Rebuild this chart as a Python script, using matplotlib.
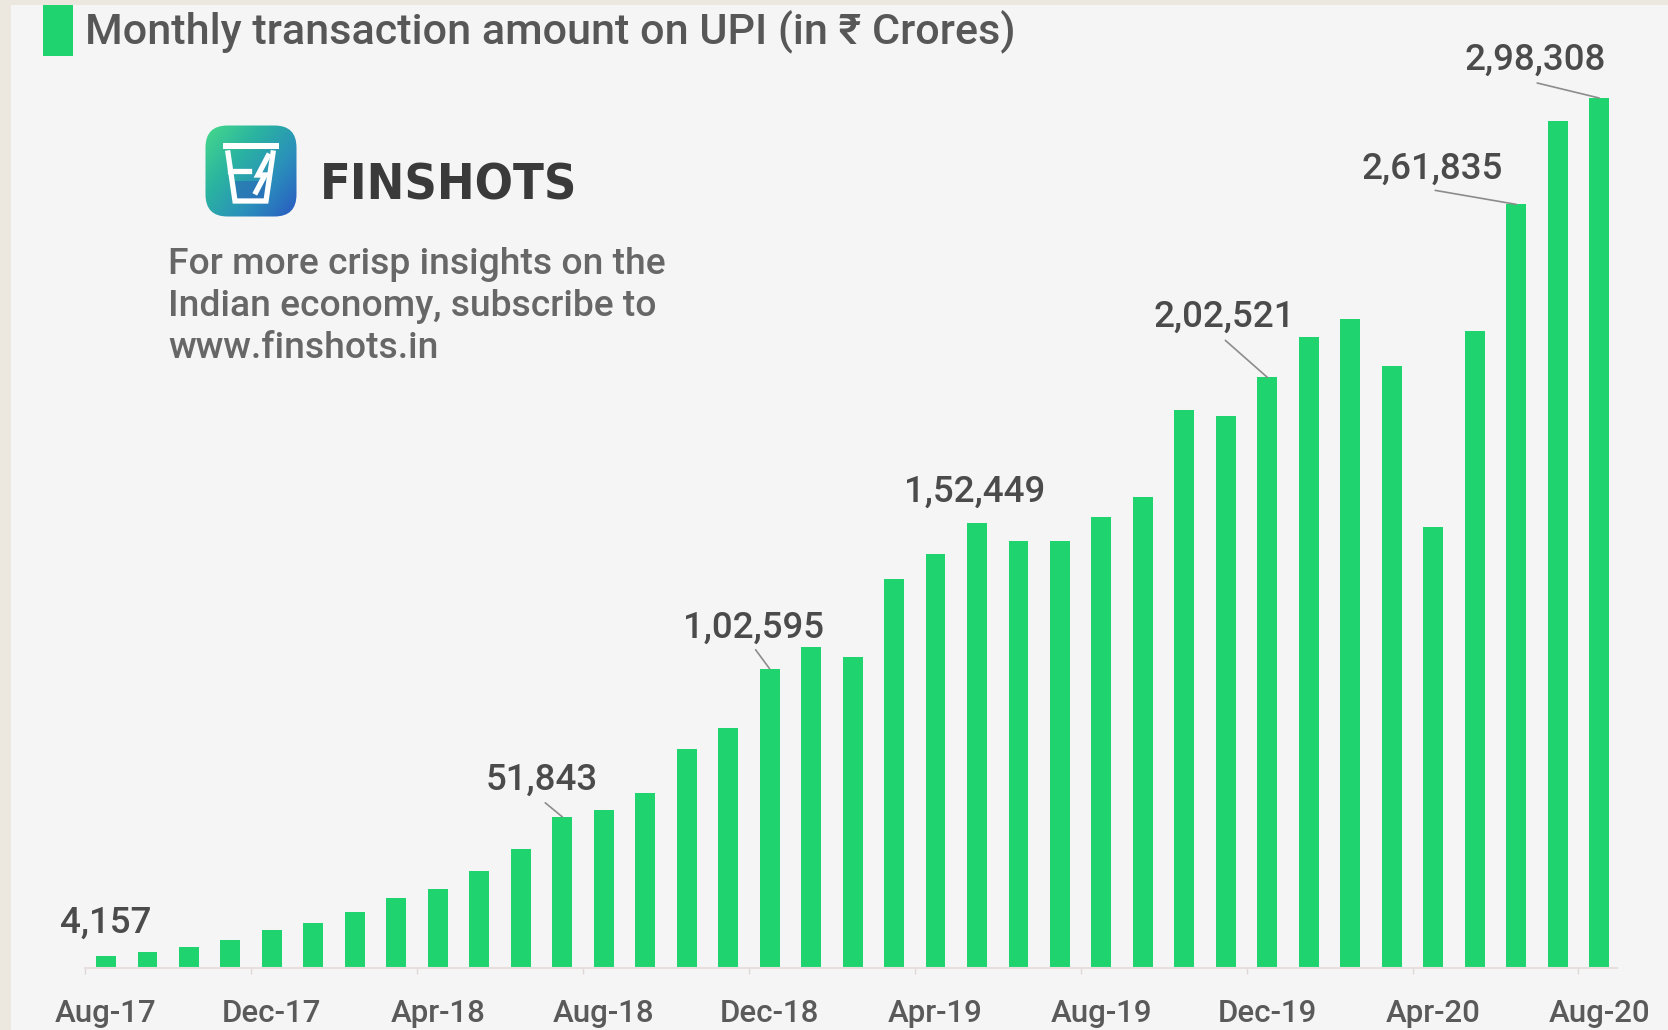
import os
import matplotlib
matplotlib.use("Agg")
import matplotlib.pyplot as plt
import numpy as np
from matplotlib import font_manager
from matplotlib.patches import FancyBboxPatch, Rectangle, Polygon
from matplotlib.colors import LinearSegmentedColormap
from matplotlib.lines import Line2D

# ---------------- data ----------------
months = ["Aug-17", "Sep-17", "Oct-17", "Nov-17", "Dec-17", "Jan-18", "Feb-18", "Mar-18",
          "Apr-18", "May-18", "Jun-18", "Jul-18", "Aug-18", "Sep-18", "Oct-18", "Nov-18",
          "Dec-18", "Jan-19", "Feb-19", "Mar-19", "Apr-19", "May-19", "Jun-19", "Jul-19",
          "Aug-19", "Sep-19", "Oct-19", "Nov-19", "Dec-19", "Jan-20", "Feb-20", "Mar-20",
          "Apr-20", "May-20", "Jun-20", "Jul-20", "Aug-20"]
amounts = [4157, 5325, 7057, 9669, 13144, 15571, 19126, 24172,
           27022, 33289, 40834, 51843, 54212, 59835, 74978, 82232,
           102595, 109932, 106737, 133461, 142034, 152449, 146387, 146386,
           154507, 161456, 191359, 189229, 202521, 216243, 222517, 206462,
           151141, 218392, 261835, 290538, 298308]
tick_months = ["Aug-17", "Dec-17", "Apr-18", "Aug-18", "Dec-18", "Apr-19",
               "Aug-19", "Dec-19", "Apr-20", "Aug-20"]
label_months = ["Aug-17", "Jul-18", "Dec-18", "May-19", "Dec-19", "Jun-20", "Aug-20"]

title = "Monthly transaction amount on UPI (in \u20b9 Crores)"
brand = "FINSHOTS"
promo_lines = ["For more crisp insights on the",
               "Indian economy, subscribe to",
               "www.finshots.in"]

# ---------------- layout / style ----------------
W, H = 1668, 1030
GREEN = "#1fd46f"
TEXT = "#4b4b4b"
FAM = ["Roboto", "DejaVu Sans"]

# label text offsets (pixels, baseline) and leader-line start offsets
text_offsets = [(0, 23), (-20, 27), (-16, 31), (-2, 22), (-43, 51), (-84, 26), (-64, 28)]
line_offsets = [None, (-17, 14), (-14, 19), None, (-42, 37), (-81, 14), (-62, 15)]


def indian(n):
    s = str(int(n))
    if len(s) <= 3:
        return s
    head, tail = s[:-3], s[-3:]
    parts = []
    while len(head) > 2:
        parts.insert(0, head[-2:])
        head = head[:-2]
    if head:
        parts.insert(0, head)
    return ",".join(parts) + "," + tail


def wnum(w):
    if isinstance(w, str):
        return font_manager.weight_dict.get(w, 400)
    return int(w)


# try to find a condensed bold font for the brand name
cond_path = None
best = None
for f in font_manager.fontManager.ttflist:
    key = (f.name + " " + os.path.basename(f.fname) + " " + str(f.stretch)).lower()
    if ("condensed" in key or "narrow" in key) and "mono" not in key and f.style == "normal":
        sc = abs(wnum(f.weight) - 700)
        if "extra" in key or "ultra" in key:
            sc += 50
        if best is None or sc < best:
            best = sc
            cond_path = f.fname

fig = plt.figure(figsize=(W / 100, H / 100), dpi=100)
fig.patch.set_facecolor("#ece8df")
fig.add_artist(Rectangle((11 / W, 0), 1, (H - 5) / H, transform=fig.transFigure,
                         facecolor="#f5f5f5", edgecolor="none", zorder=0))


def fx(x):
    return x / W


def fy(y):
    return 1 - y / H


# ---------------- main axes ----------------
ax = fig.add_axes([fx(85), fy(968), (1617 - 85) / W, (968 - 60) / H])
ax.set_facecolor("none")
x = np.arange(len(months))
ax.bar(x, amounts, width=0.48, color=GREEN, zorder=2)
ax.set_xlim(-0.506, len(months) - 1 + 0.43)
ax.set_ylim(0, max(amounts) * 908 / 870)

for s in ("top", "left", "right"):
    ax.spines[s].set_visible(False)
ax.spines["bottom"].set_color("#e8dede")
ax.spines["bottom"].set_linewidth(1.5)
ax.yaxis.set_visible(False)

tick_idx = [months.index(m) for m in tick_months]
ax.set_xticks(tick_idx)
ax.set_xticklabels(tick_months, fontsize=22.5, color="#5a5a5a", fontweight="medium", family=FAM)
ax.set_xticks([i - 0.5 for i in tick_idx], minor=True)
ax.tick_params(axis="x", which="major", length=0, pad=22.5)
ax.tick_params(axis="x", which="minor", length=4, width=1, color="#e0d8d8")

for m, toff, loff in zip(label_months, text_offsets, line_offsets):
    i = months.index(m)
    v = amounts[i]
    if loff is not None:
        ax.annotate("", xy=(i, v), xytext=loff, textcoords="offset pixels",
                    arrowprops=dict(arrowstyle="-", color="#8c8c8c", lw=1.2,
                                    shrinkA=0, shrinkB=0), zorder=3)
    ax.annotate(indian(v), xy=(i, v), xytext=toff, textcoords="offset pixels",
                ha="center", va="baseline", fontsize=26.5, fontweight="medium",
                color=TEXT, family=FAM, zorder=4)

# ---------------- title ----------------
fig.add_artist(Rectangle((fx(43), fy(56)), 30 / W, 51 / H, transform=fig.transFigure,
                         facecolor=GREEN, edgecolor="none", zorder=2))
t_title = fig.text(fx(85), fy(43), title, fontsize=28, fontweight="medium",
                   color="#575757", family=FAM, va="baseline", ha="left")

# ---------------- logo ----------------
lax = fig.add_axes([fx(205), fy(217), 92 / W, 92 / H])
lax.set_xlim(0, 92)
lax.set_ylim(92, 0)
lax.axis("off")
gx, gy = np.meshgrid(np.linspace(0, 1, 200), np.linspace(0, 1, 200))
grad = gx * 0.55 + gy * 0.45
cmap = LinearSegmentedColormap.from_list("lg", ["#46da8a", "#2bb5a0", "#2a8fbb", "#2a58c2"])
im = lax.imshow(grad, extent=(0, 92, 92, 0), cmap=cmap, origin="upper", aspect="auto", zorder=1)
box = FancyBboxPatch((0.5, 0.5), 91, 91, boxstyle="round,pad=0,rounding_size=22",
                     facecolor="none", edgecolor="none", transform=lax.transData)
lax.add_patch(box)
im.set_clip_path(box)
lax.add_patch(Polygon([(28, 56), (31, 75), (60, 75), (63, 56)], closed=True,
                      facecolor="#2a62b8", edgecolor="none", alpha=0.55, zorder=2))
lax.add_patch(Rectangle((18, 18), 56, 6, facecolor="white", edgecolor="none", zorder=3))
lax.add_line(Line2D([23, 30, 61, 68], [28, 76, 76, 28], color="white", lw=3.8,
                    solid_joinstyle="miter", zorder=3))
lax.add_line(Line2D([25, 44], [46, 46], color="white", lw=3.8, zorder=3))
lax.add_line(Line2D([63, 53, 60, 51], [31, 50, 50, 67], color="white", lw=3.8,
                    solid_joinstyle="miter", zorder=3))

# brand text
if cond_path:
    bprops = dict(fontproperties=font_manager.FontProperties(fname=cond_path, size=50))
    brand_w = 258
else:
    bprops = dict(family=FAM, fontweight="bold", fontsize=50)
    brand_w = 285
t_brand = fig.text(fx(320), fy(200), brand, color="#3a3a3a", va="baseline", ha="left", **bprops)

# promo text
promo = []
for k, line in enumerate(promo_lines):
    promo.append(fig.text(fx(168), fy(274 + 42 * k), line, fontsize=24, fontweight="medium",
                          color="#676767", family=FAM, va="baseline", ha="left"))

# ---------------- fit text widths ----------------
fig.canvas.draw()
r = fig.canvas.get_renderer()


def fit(t, target):
    w = t.get_window_extent(r).width
    t.set_fontsize(t.get_fontsize() * target / w)


fit(t_title, 930)
fit(t_brand, brand_w)
w0 = promo[0].get_window_extent(r).width
sc = 497 / w0
for t in promo:
    t.set_fontsize(t.get_fontsize() * sc)

fig.savefig("out.png", dpi=100, facecolor=fig.get_facecolor())
